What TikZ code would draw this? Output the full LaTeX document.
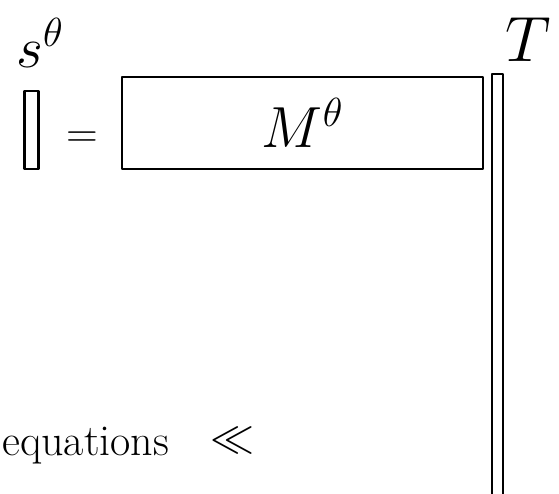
\documentclass[tikz,border=0pt]{standalone}
\usepackage{fix-cm}
\usepackage{amsmath}
\usetikzlibrary{positioning}

\begin{document}
\begin{tikzpicture}[x=1pt, y=-1pt, line width=2.6pt, line join=round,
    box/.style={draw, rectangle, inner sep=0pt},
    big/.style={font=\fontsize{44}{50}\selectfont},
    huge/.style={font=\fontsize{58}{64}\selectfont}]
    % Frame
    \useasboundingbox (0,0) rectangle (559,494);

    % Vector and matrix
    \node[box, minimum width=14pt, minimum height=78pt] (svec) at (31.5,130) {};
    \node[huge, above=18pt of svec.north east, anchor=south] (slabel) {$s^{\theta}$};
    \node[big] (eq) at (82,140) {$=$};
    \node[box, minimum width=361pt, minimum height=92pt, huge] (M) at (302.5,123) {$M^{\theta}$};

    % Tall bar
    \node[box, minimum width=11pt, minimum height=440pt] (T) at (497.5,294) {};
    \node[huge, font=\fontsize{64}{70}\selectfont] (Tlabel) at (528,40) {$T$};

    % Bottom text
    \node[big, anchor=base west, inner sep=0pt] (equations) at (1,455) {equations};
    \node[big] (ll) at (232,440) {$\ll$};
\end{tikzpicture}
\end{document}
